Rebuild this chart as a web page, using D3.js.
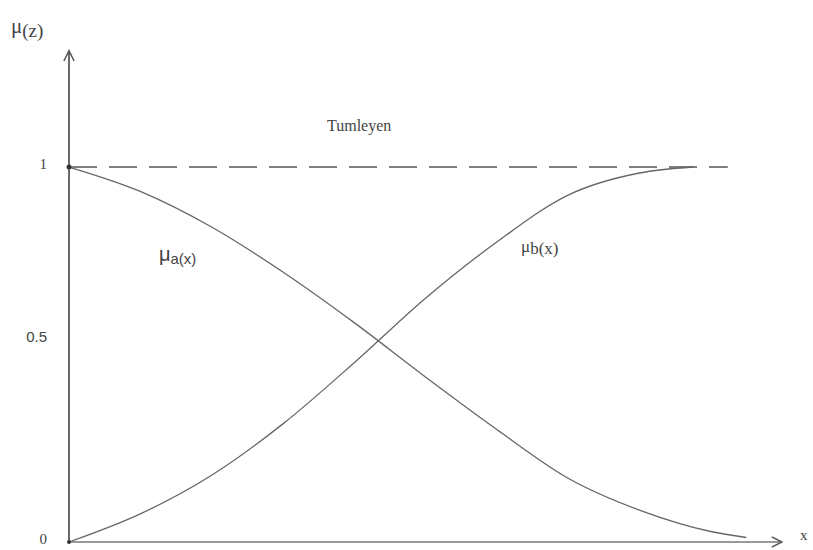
<!DOCTYPE html>
<html>
<head>
<meta charset="utf-8">
<script src="https://cdn.jsdelivr.net/npm/d3@7"></script>
<style>
  body { margin: 0; background: #fff; }
  text { fill: #444; }
</style>
</head>
<body>
<div id="chart"></div>
<script>
// membership curves (x in 0..100, mu in 0..1)
var xA = [0, 10, 20, 30, 40, 50, 60, 70, 80, 90, 95];
var muA = [1.0, 0.935, 0.84, 0.72, 0.585, 0.44, 0.30, 0.17, 0.085, 0.028, 0.012];

var xB = [0, 10, 20, 30, 40, 50, 60, 70, 80, 87.5];
var muB = [0, 0.075, 0.178, 0.315, 0.478, 0.65, 0.80, 0.925, 0.984, 1.0];

var envelopeX = [0, 92.4];
var envelopeMu = [1, 1];

var tickValues = [0, 0.5, 1];
var tickLabels = ["0", "0.5", "1"];

var width = 813, height = 550;

var x = d3.scaleLinear().domain([0, 100]).range([69, 782]);
var y = d3.scaleLinear().domain([0, 1]).range([542, 167]);

var svg = d3.select("#chart").append("svg")
    .attr("width", width)
    .attr("height", height);

var defs = svg.append("defs");
defs.append("marker")
    .attr("id", "arrow")
    .attr("viewBox", "0 0 10 10")
    .attr("refX", 9).attr("refY", 5)
    .attr("markerWidth", 8).attr("markerHeight", 8)
    .attr("orient", "auto")
    .append("path")
    .attr("d", "M1,1 L9,5 L1,9")
    .attr("fill", "none")
    .attr("stroke", "#555")
    .attr("stroke-width", 1.2);

// axes with arrow heads
svg.append("line")
    .attr("x1", x(0)).attr("y1", y(0))
    .attr("x2", x(0)).attr("y2", y(1.31))
    .attr("stroke", "#444").attr("stroke-width", 1.6)
    .attr("marker-end", "url(#arrow)");

svg.append("line")
    .attr("x1", x(0)).attr("y1", y(0))
    .attr("x2", x(100)).attr("y2", y(0))
    .attr("stroke", "#777").attr("stroke-width", 1.6)
    .attr("marker-end", "url(#arrow)");

var line = d3.line()
    .x(d => x(d[0]))
    .y(d => y(d[1]))
    .curve(d3.curveMonotoneX);

// envelope (dashed)
svg.append("path")
    .datum(d3.zip(envelopeX, envelopeMu))
    .attr("d", d3.line().x(d => x(d[0])).y(d => y(d[1])))
    .attr("fill", "none")
    .attr("stroke", "#555")
    .attr("stroke-width", 1.5)
    .attr("stroke-dasharray", "28,12");

svg.append("path")
    .datum(d3.zip(xA, muA))
    .attr("d", line)
    .attr("fill", "none")
    .attr("stroke", "#666")
    .attr("stroke-width", 1.3);

svg.append("path")
    .datum(d3.zip(xB, muB))
    .attr("d", line)
    .attr("fill", "none")
    .attr("stroke", "#666")
    .attr("stroke-width", 1.3);

// start dots on the axis
svg.append("circle").attr("cx", x(0)).attr("cy", y(1)).attr("r", 2.5).attr("fill", "#333");
svg.append("circle").attr("cx", x(0)).attr("cy", y(0)).attr("r", 2).attr("fill", "#333");

// tick labels
svg.selectAll("text.tick")
    .data(tickValues)
    .join("text")
    .attr("class", "tick")
    .attr("x", 47)
    .attr("y", (d, i) => i == 1 ? y(d) - 16 : y(d) - 1)
    .attr("text-anchor", "end")
    .attr("dominant-baseline", "middle")
    .style("font-family", (d, i) => i == 1 ? "Liberation Sans" : "Liberation Serif")
    .style("font-size", "15px")
    .text((d, i) => tickLabels[i]);

// y-axis title
var yt = svg.append("text")
    .attr("x", 11).attr("y", 33)
    .style("font-family", "Liberation Serif")
    .style("font-size", "21px");
yt.append("tspan").text("\u03bc");
yt.append("tspan").attr("dy", 4).style("font-size", "19px").text("(z)");

svg.append("text")
    .attr("x", 800).attr("y", 540)
    .style("font-family", "Liberation Serif")
    .style("font-size", "15px")
    .text("x");

svg.append("text")
    .attr("x", 327).attr("y", 131)
    .style("font-family", "Liberation Serif")
    .style("font-size", "16px")
    .text("Tumleyen");

var la = svg.append("text")
    .attr("x", 159).attr("y", 261)
    .style("font-family", "Liberation Sans")
    .style("font-size", "20px");
la.append("tspan").text("\u03bc");
la.append("tspan").attr("dy", 3).style("font-size", "15px").text("a(x)");

var lb = svg.append("text")
    .attr("x", 521).attr("y", 252)
    .style("font-family", "Liberation Serif")
    .style("font-size", "17px");
lb.append("tspan").text("\u03bc");
lb.append("tspan").attr("dy", 2).style("font-size", "17px").text("b(x)");
</script>
</body>
</html>
